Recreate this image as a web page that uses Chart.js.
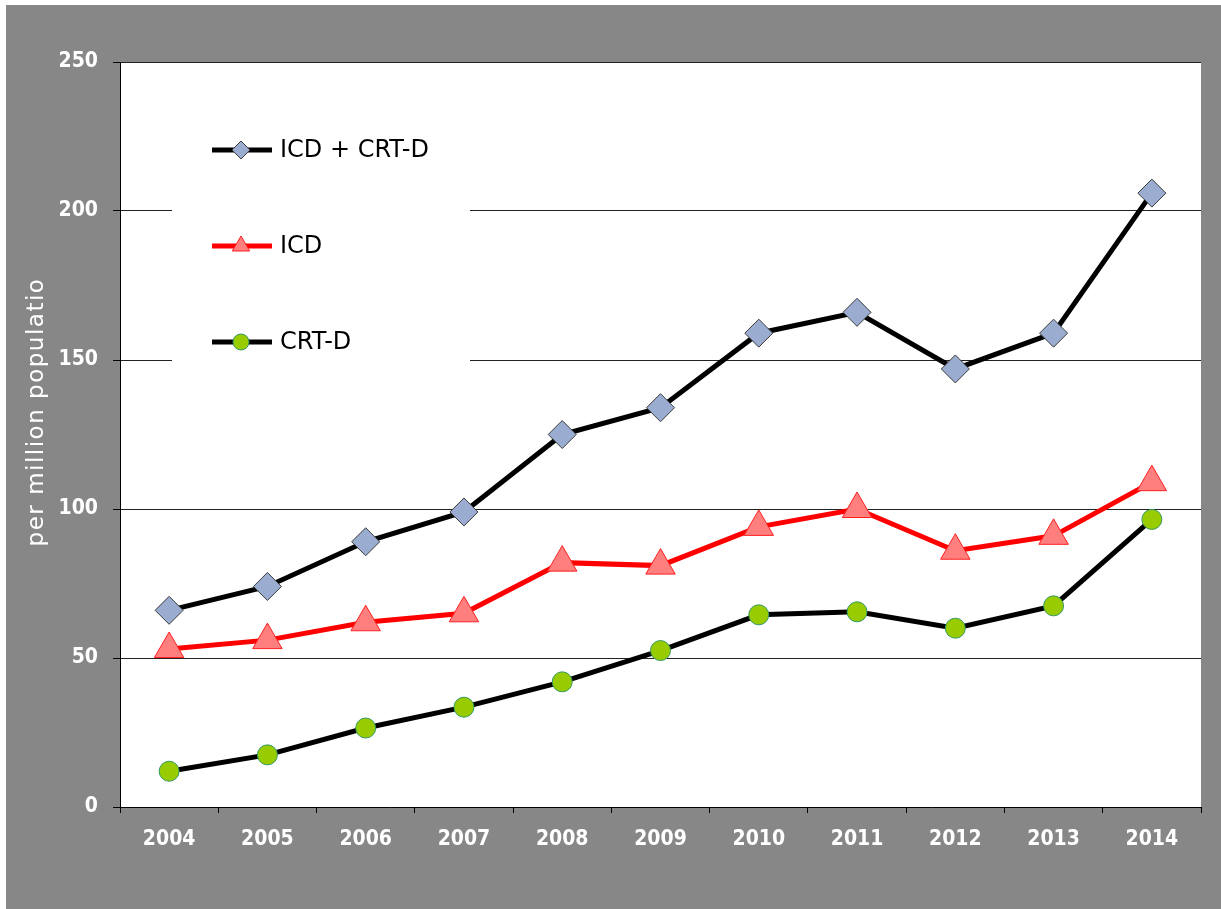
<!DOCTYPE html>
<html lang="en">
<head>
    <meta charset="UTF-8">
    <title>ICD / CRT-D implants per million population</title>
    <script src="https://cdn.jsdelivr.net/npm/chart.js"></script>
    <style>
        * { margin: 0; padding: 0; box-sizing: border-box; }
        body { background: #ffffff; width: 1221px; height: 909px; overflow: hidden; }
        .chart-box { position: absolute; left: 6px; top: 5px; width: 1215px; height: 904px; }
    </style>
</head>
<body>
    <div class="chart-box"><canvas id="implantChart"></canvas></div>

    <script>
        // data
        const years = ['2004', '2005', '2006', '2007', '2008', '2009', '2010', '2011', '2012', '2013', '2014'];
        const icdCrtd = [66, 74, 89, 99, 125, 134, 159, 166, 147, 159, 206];
        const icdOnly = [53, 56, 62, 65, 82, 81, 94, 100, 86, 91, 109];
        const crtdOnly = [12, 17.5, 26.5, 33.5, 42, 52.5, 64.5, 65.5, 60, 67.5, 96.5];
        const yTicks = [0, 50, 100, 150, 200, 250];
        const yTitle = 'per million populatio';

        const tickFont = { family: '"DejaVu Sans Condensed", "DejaVu Sans", sans-serif', size: 21, weight: 'bold' };

        // grey frame, white plot area, legend box and axis title
        const framePlugin = {
            id: 'frame',
            beforeDraw(chart) {
                const { ctx, chartArea: a } = chart;
                ctx.save();
                ctx.fillStyle = '#878787';
                ctx.fillRect(0, 0, chart.width, chart.height);
                ctx.fillStyle = '#ffffff';
                ctx.fillRect(a.left, a.top, a.right - a.left, a.bottom - a.top);
                ctx.restore();
            },
            beforeDatasetsDraw(chart) {
                const ctx = chart.ctx;
                ctx.save();
                ctx.fillStyle = '#ffffff';
                ctx.fillRect(166, 75, 298, 295);
                ctx.restore();
            },
            afterDraw(chart) {
                const ctx = chart.ctx;
                ctx.save();
                // legend entries
                const rows = [145, 241, 337];
                chart.data.datasets.slice().reverse().forEach((ds, i) => {
                    const y = rows[i];
                    ctx.strokeStyle = ds.borderColor;
                    ctx.lineWidth = 5;
                    ctx.beginPath();
                    ctx.moveTo(206, y);
                    ctx.lineTo(266, y);
                    ctx.stroke();
                    ctx.fillStyle = ds.pointBackgroundColor;
                    ctx.strokeStyle = ds.pointBorderColor;
                    ctx.lineWidth = 1;
                    Chart.helpers.drawPoint(ctx, {
                        pointStyle: ds.pointStyle, radius: ds.legendRadius, rotation: 0, borderWidth: 1
                    }, 235, y);
                    ctx.fillStyle = '#000000';
                    ctx.font = '24px "DejaVu Sans", sans-serif';
                    ctx.textAlign = 'left';
                    ctx.textBaseline = 'middle';
                    ctx.fillText(ds.label, 274, y + 1);
                });
                // y axis title
                ctx.translate(31, 407);
                ctx.rotate(-Math.PI / 2);
                ctx.fillStyle = '#ffffff';
                ctx.font = '23px "DejaVu Sans", sans-serif';
                ctx.letterSpacing = '1.5px';
                ctx.textAlign = 'center';
                ctx.textBaseline = 'middle';
                ctx.fillText(yTitle, 0, 0);
                ctx.restore();
            }
        };

        new Chart(document.getElementById('implantChart'), {
            type: 'line',
            data: {
                labels: years,
                datasets: [
                    {
                        label: 'CRT-D',
                        data: crtdOnly,
                        borderColor: '#000000',
                        borderWidth: 5,
                        pointStyle: 'circle',
                        pointRadius: 10,
                        legendRadius: 8,
                        pointBackgroundColor: '#99cc00',
                        pointBorderColor: '#339966',
                        pointBorderWidth: 1
                    },
                    {
                        label: 'ICD',
                        data: icdOnly,
                        borderColor: '#ff0000',
                        borderWidth: 5,
                        pointStyle: 'triangle',
                        pointRadius: 17,
                        legendRadius: 10,
                        pointBackgroundColor: '#ff7f7f',
                        pointBorderColor: '#ff2020',
                        pointBorderWidth: 1
                    },
                    {
                        label: 'ICD + CRT-D',
                        data: icdCrtd,
                        borderColor: '#000000',
                        borderWidth: 5,
                        pointStyle: 'rectRot',
                        pointRadius: 14,
                        legendRadius: 9,
                        pointBackgroundColor: '#9aaccf',
                        pointBorderColor: '#3c3c3c',
                        pointBorderWidth: 1
                    }
                ]
            },
            options: {
                responsive: true,
                maintainAspectRatio: false,
                animation: false,
                events: [],
                layout: { padding: { top: 57, right: 20, left: 0, bottom: 0 } },
                plugins: {
                    legend: { display: false },
                    tooltip: { enabled: false }
                },
                scales: {
                    x: {
                        offset: true,
                        afterFit(scale) { scale.height = 102; },
                        grid: {
                            offset: true,
                            drawOnChartArea: false,
                            drawTicks: true,
                            tickLength: 6,
                            tickColor: '#000000'
                        },
                        border: { color: '#000000', width: 1 },
                        ticks: { color: '#ffffff', font: tickFont, padding: 14, maxRotation: 0 }
                    },
                    y: {
                        min: 0,
                        max: 250,
                        afterFit(scale) { scale.width = 114; },
                        afterBuildTicks(scale) { scale.ticks = yTicks.map(v => ({ value: v })); },
                        grid: {
                            color: (c) => (c.tick && c.tick.value === 0 ? 'rgba(0,0,0,0)' : '#222222'),
                            tickColor: '#000000',
                            tickLength: 7,
                            lineWidth: 1
                        },
                        border: { color: '#000000', width: 1 },
                        ticks: { color: '#ffffff', font: tickFont, padding: 15 }
                    }
                }
            },
            plugins: [framePlugin]
        });
    </script>
</body>
</html>
